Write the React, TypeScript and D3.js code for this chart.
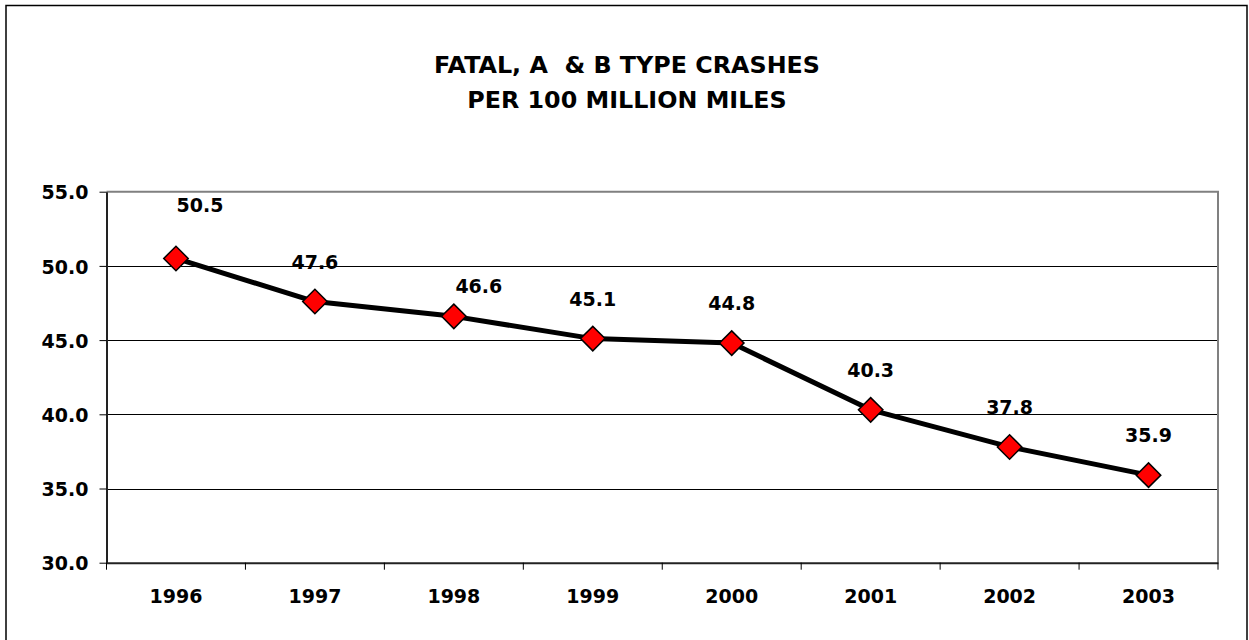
import React, { useRef, useEffect } from 'react';
import * as d3 from 'd3';

const years = ['1996', '1997', '1998', '1999', '2000', '2001', '2002', '2003'];
const crashRates = [50.5, 47.6, 46.6, 45.1, 44.8, 40.3, 37.8, 35.9];
const yTicks = [30, 35, 40, 45, 50, 55];
const titleLines = ['FATAL, A  & B TYPE CRASHES', 'PER 100 MILLION MILES'];

const FONT = '"DejaVu Sans", Verdana, sans-serif';

const App = () => {
  const ref = useRef<SVGSVGElement>(null);

  useEffect(() => {
    const W = 1249;
    const H = 640;
    const svg = d3.select(ref.current)
      .attr('width', W)
      .attr('height', H);

    svg.selectAll('*').remove();

    const left = 106.5, right = 1218, top = 191.7, bottom = 562.7;

    // outer chart frame
    svg.append('rect')
      .attr('x', 6).attr('y', 5.5)
      .attr('width', 1241).attr('height', 650)
      .attr('fill', '#fff')
      .attr('stroke', '#000')
      .attr('stroke-width', 1.5);

    // title
    svg.append('text')
      .attr('x', 627)
      .attr('y', 73)
      .attr('text-anchor', 'middle')
      .attr('xml:space', 'preserve')
      .style('white-space', 'pre')
      .style('font-family', FONT)
      .style('font-weight', 'bold')
      .style('font-size', '23.8px')
      .selectAll('tspan')
      .data(titleLines)
      .join('tspan')
      .attr('x', 627)
      .attr('dy', (_d, i) => (i === 0 ? 0 : 35))
      .text(d => d);

    const x = d3.scaleBand<string>()
      .domain(years)
      .range([left, right])
      .padding(0);

    const y = d3.scaleLinear()
      .domain([30, 55])
      .range([bottom, top]);

    // gridlines
    svg.append('g')
      .selectAll('line')
      .data(yTicks.filter(t => t > 30 && t < 55))
      .join('line')
      .attr('x1', left).attr('x2', right)
      .attr('y1', d => Math.round(y(d)) + 0.5)
      .attr('y2', d => Math.round(y(d)) + 0.5)
      .attr('stroke', '#000')
      .attr('stroke-width', 1);

    // top and right plot border
    svg.append('path')
      .attr('d', `M${left},${top}H${right}V${bottom}`)
      .attr('fill', 'none')
      .attr('stroke', '#808080')
      .attr('stroke-width', 2);

    // y axis
    const yAxis = svg.append('g')
      .attr('transform', `translate(${left},0)`)
      .call(d3.axisLeft(y)
        .tickValues(yTicks)
        .tickFormat(d3.format('.1f'))
        .tickSize(7)
        .tickSizeOuter(0)
        .tickPadding(11));
    yAxis.select('.domain').attr('stroke', '#222').attr('stroke-width', 2);
    yAxis.selectAll('.tick line').attr('stroke', '#000');
    yAxis.selectAll('.tick text')
      .attr('dy', '0.38em')
      .attr('fill', '#000')
      .style('font-family', FONT)
      .style('font-weight', 'bold')
      .style('font-size', '19px');

    // x axis labels
    const xAxis = svg.append('g')
      .attr('transform', `translate(0,${bottom})`)
      .call(d3.axisBottom(x).tickSize(0).tickPadding(26.5));
    xAxis.select('.domain').attr('stroke', '#222').attr('stroke-width', 2);
    xAxis.selectAll('.tick text')
      .attr('fill', '#000')
      .style('font-family', FONT)
      .style('font-weight', 'bold')
      .style('font-size', '19px');

    // x ticks between categories
    const bounds = years.map(d => x(d) as number).concat([right]);
    svg.append('g')
      .selectAll('line')
      .data(bounds)
      .join('line')
      .attr('x1', d => d).attr('x2', d => d)
      .attr('y1', bottom).attr('y2', bottom + 7)
      .attr('stroke', '#000')
      .attr('stroke-width', 1);

    const cx = (d: string) => (x(d) as number) + x.bandwidth() / 2;
    const pts = years.map((yr, i) => ({ yr, v: crashRates[i] }));

    // series line
    svg.append('path')
      .datum(pts)
      .attr('fill', 'none')
      .attr('stroke', '#000')
      .attr('stroke-width', 5)
      .attr('stroke-linejoin', 'round')
      .attr('d', d3.line<{ yr: string; v: number }>()
        .x(d => cx(d.yr))
        .y(d => y(d.v)));

    // diamond markers
    const diamond = d3.symbol().type(d3.symbolSquare).size(300);
    svg.append('g')
      .selectAll('path')
      .data(pts)
      .join('path')
      .attr('d', diamond)
      .attr('transform', d => `translate(${cx(d.yr)},${y(d.v)}) rotate(45)`)
      .attr('fill', '#ff0000')
      .attr('stroke', '#000')
      .attr('stroke-width', 1.5);

    // data labels (a couple were dragged in the original)
    const nudge: Record<string, [number, number]> = {
      '1996': [24, -46],
      '1998': [25, -23],
    };
    svg.append('g')
      .selectAll('text')
      .data(pts)
      .join('text')
      .attr('x', d => cx(d.yr) + (nudge[d.yr] ? nudge[d.yr][0] : 0))
      .attr('y', d => y(d.v) + (nudge[d.yr] ? nudge[d.yr][1] : -33))
      .attr('text-anchor', 'middle')
      .style('font-family', FONT)
      .style('font-weight', 'bold')
      .style('font-size', '19px')
      .text(d => d.v.toFixed(1));
  }, []);

  return (
    <svg
      ref={ref}
      style={{ position: 'absolute', left: 0, top: 0, display: 'block' }}
    ></svg>
  );
};

export default App;
